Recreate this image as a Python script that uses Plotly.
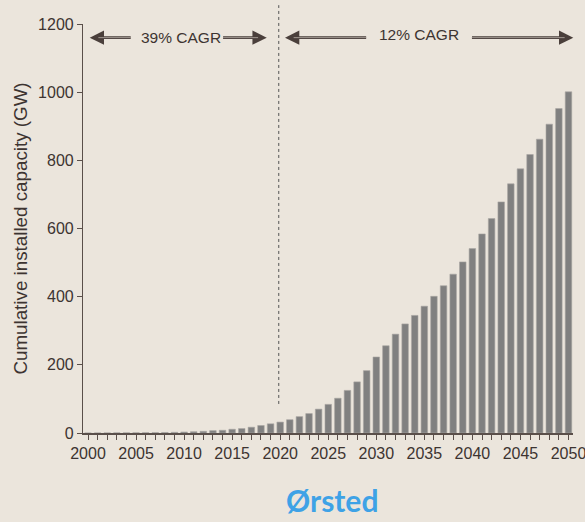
import plotly.graph_objects as go

years = list(range(2000, 2051))
capacity = [0.1, 0.2, 0.3, 0.5, 0.6, 0.7, 0.9, 1.1, 1.5, 2.0, 3.0, 3.8,
            5, 7, 8, 11, 13, 17, 22, 27, 32, 39, 48, 57, 70, 84, 102, 125,
            150, 183, 223, 256, 290, 320, 345, 372, 401, 432, 466, 502,
            541, 584, 629, 678, 731, 775, 817, 862, 906, 952, 1001]
y_ticks = [0, 200, 400, 600, 800, 1000, 1200]
x_ticks = [2000, 2005, 2010, 2015, 2020, 2025, 2030, 2035, 2040, 2045, 2050]

BG = "#ebe5dc"
TXT = "#3d3431"
AX = "#5a4f4a"
FONT = "Liberation Sans, Arial, sans-serif"
FS = 16

fig = go.Figure()
fig.add_trace(go.Bar(
    x=years, y=capacity, width=0.68,
    marker=dict(color="#808080", line=dict(color="#a9a6a2", width=0.6)),
    hoverinfo="x+y",
))

fig.update_layout(
    width=585, height=522,
    margin=dict(l=83, r=12, t=24, b=89),
    paper_bgcolor=BG, plot_bgcolor=BG,
    showlegend=False,
    font=dict(family=FONT, color=TXT, size=FS),
    xaxis=dict(
        range=[1999.48, 2050.47], tickvals=x_ticks, ticktext=[str(v) for v in x_ticks],
        showgrid=False, zeroline=False, showline=True, linecolor=AX, linewidth=1.5,
        ticks="outside", ticklen=5, tickcolor=AX, tickwidth=1,
        minor=dict(dtick=1, tick0=2000, ticks="outside", ticklen=5, tickcolor=AX, tickwidth=1, showgrid=False),
        tickfont=dict(size=FS, color=TXT, family=FONT),
        ticklabeloverflow="allow", automargin=False,
    ),
    yaxis=dict(
        range=[0, 1200], tickvals=y_ticks,
        showgrid=False, zeroline=False, showline=True, linecolor=AX, linewidth=1.2,
        ticks="outside", ticklen=5, tickcolor=AX, tickwidth=1,
        tickfont=dict(size=FS, color=TXT, family=FONT),
        title=dict(text="Cumulative installed capacity (GW)", font=dict(size=18.8, color=TXT, family=FONT), standoff=5),
        automargin=False,
    ),
)

# dotted separator at 2020
fig.add_shape(type="line", xref="x", yref="paper", x0=2019.85, x1=2019.85,
              y0=0.071, y1=1.046, line=dict(color="#555", width=1, dash="dot"))

ARROW_Y = 1160
arrows = [
    (2000.18, 2004.6), (2018.6, 2013.9),
    (2020.5, 2029.1), (2050.5, 2039.8),
]
for tip, tail in arrows:
    fig.add_annotation(x=tip, y=ARROW_Y, ax=tail, ay=ARROW_Y, xref="x", yref="y",
                       axref="x", ayref="y", text="", showarrow=True,
                       arrowhead=2, arrowsize=1.1, arrowwidth=2.6, arrowcolor="#4a3f3b")
    fig.add_annotation(x=tip + (0.9 if tail > tip else -0.9), y=ARROW_Y, ax=tail, ay=ARROW_Y,
                       xref="x", yref="y", axref="x", ayref="y", text="", showarrow=True,
                       arrowhead=0, arrowwidth=0.8, arrowcolor="#b8aea6")

fig.add_annotation(x=2009.7, y=ARROW_Y, xref="x", yref="y", text="39% CAGR", showarrow=False,
                   font=dict(size=15.5, color=TXT, family=FONT))
fig.add_annotation(x=2034.4, y=ARROW_Y + 8, xref="x", yref="y", text="12% CAGR", showarrow=False,
                   font=dict(size=15.5, color=TXT, family=FONT))

fig.add_annotation(x=(331.5 - 83) / 490, y=-(500 - 433) / 409, xref="paper", yref="paper",
                   xanchor="center", yanchor="middle", borderpad=0,
                   text="<b>Ørsted</b>", showarrow=False,
                   font=dict(size=30, color="#3ea2e6", family="Lato, Noto Sans, sans-serif"))

fig.write_html("out.html")
